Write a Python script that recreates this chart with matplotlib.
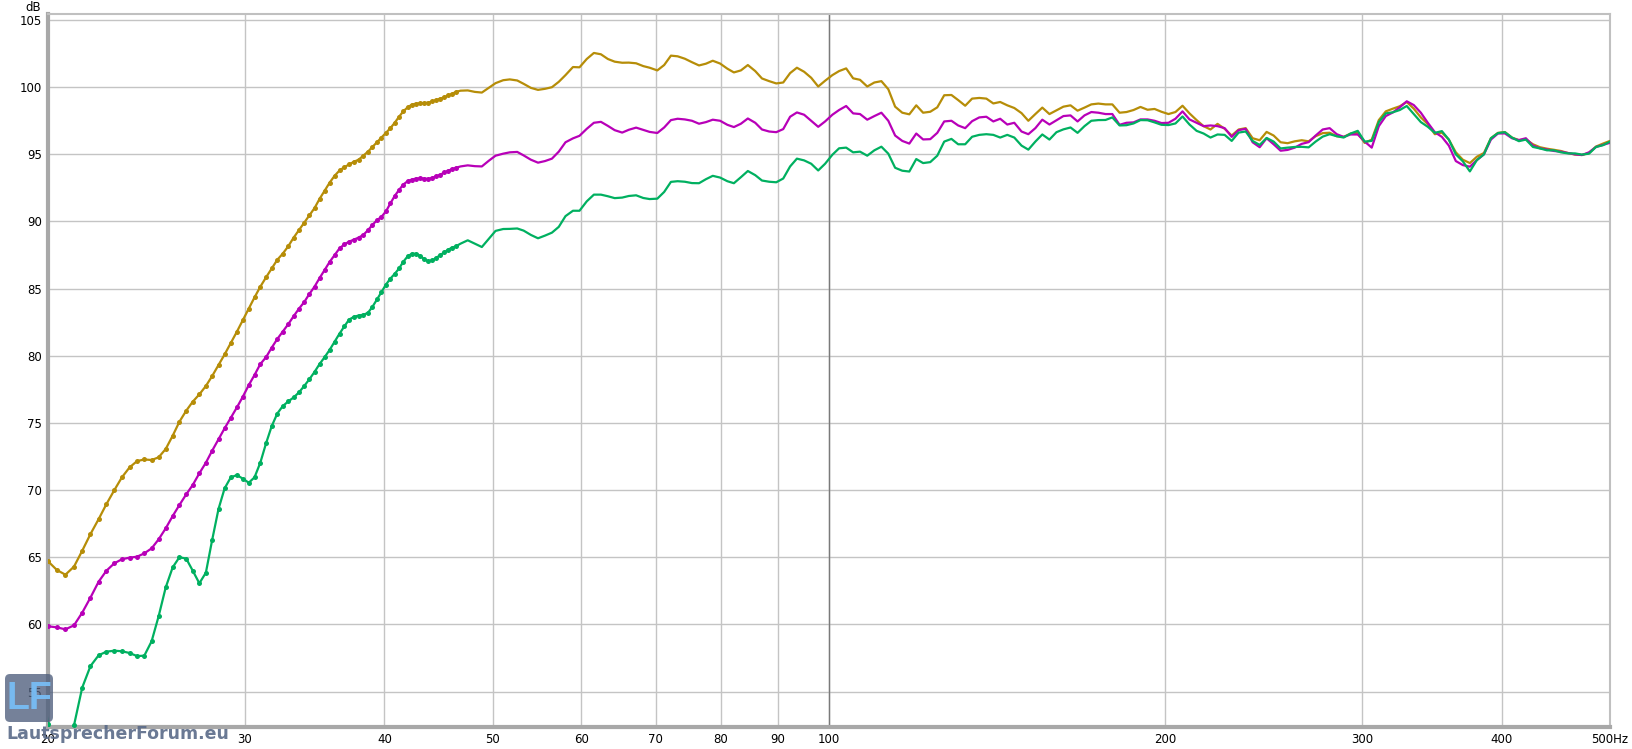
import matplotlib
matplotlib.use("Agg")
import matplotlib.pyplot as plt
from matplotlib.patches import FancyBboxPatch
from matplotlib.ticker import FixedLocator, FixedFormatter, NullLocator
from matplotlib.transforms import IdentityTransform

# Low end: FFT bins (drawn with markers)
low_freq = [
    19.63, 20.00, 20.37, 20.73, 21.10, 21.46, 21.83, 22.20, 22.56, 22.93,
    23.29, 23.66, 24.03, 24.39, 24.76, 25.12, 25.49, 25.86, 26.22, 26.59,
    26.95, 27.32, 27.69, 28.05, 28.42, 28.78, 29.15, 29.52, 29.88, 30.25,
    30.61, 30.98, 31.35, 31.71, 32.08, 32.44, 32.81, 33.18, 33.54, 33.91,
    34.27, 34.64, 35.01, 35.37, 35.74, 36.10, 36.47, 36.84, 37.20, 37.57,
    37.93, 38.30, 38.67, 39.03, 39.40, 39.76, 40.13, 40.50, 40.86, 41.23,
    41.59, 41.96, 42.33, 42.69, 43.06, 43.42, 43.79, 44.16, 44.52, 44.89,
    45.25, 45.62, 45.98, 46.35,
]
gold_low = [
    64.8, 64.7, 64.05, 63.7, 64.3, 65.48, 66.73, 67.84, 68.96, 70.0,
    70.95, 71.69, 72.16, 72.28, 72.24, 72.44, 73.06, 74.05, 75.09, 75.91,
    76.58, 77.13, 77.75, 78.49, 79.31, 80.1, 80.95, 81.8, 82.65, 83.5,
    84.35, 85.15, 85.85, 86.5, 87.15, 87.6, 88.15, 88.8, 89.35, 89.9,
    90.45, 91.0, 91.7, 92.3, 92.9, 93.4, 93.8, 94.05, 94.25, 94.45,
    94.6, 94.9, 95.2, 95.55, 95.9, 96.25, 96.6, 96.95, 97.35, 97.8,
    98.2, 98.5, 98.7, 98.78, 98.8, 98.82, 98.85, 98.95, 99.05, 99.15,
    99.25, 99.4, 99.5, 99.65,
]
magenta_low = [
    59.9, 59.86, 59.78, 59.63, 59.93, 60.87, 62.0, 63.18, 64.0, 64.55,
    64.85, 64.97, 65.04, 65.29, 65.66, 66.33, 67.15, 68.07, 68.89, 69.68,
    70.38, 71.25, 72.04, 72.93, 73.78, 74.6, 75.39, 76.16, 76.95, 77.82,
    78.57, 79.39, 79.9, 80.6, 81.25, 81.8, 82.35, 82.95, 83.5, 84.0,
    84.6, 85.15, 85.8, 86.4, 87.0, 87.5, 88.0, 88.3, 88.5, 88.65,
    88.8, 89.0, 89.35, 89.75, 90.1, 90.35, 90.75, 91.35, 91.9, 92.35,
    92.75, 93.0, 93.12, 93.2, 93.21, 93.2, 93.17, 93.25, 93.38, 93.48,
    93.65, 93.78, 93.9, 94.0,
]
green_low = [
    57.5, 52.58, 51.0, 51.0, 52.48, 55.29, 56.9, 57.7, 57.97, 58.04,
    58.0, 57.87, 57.64, 57.67, 58.74, 60.6, 62.75, 64.25, 65.0, 64.9,
    64.0, 63.06, 63.85, 66.28, 68.59, 70.13, 70.95, 71.12, 70.85, 70.55,
    70.95, 72.05, 73.5, 74.75, 75.7, 76.25, 76.6, 76.9, 77.27, 77.75,
    78.25, 78.8, 79.4, 79.9, 80.45, 81.05, 81.65, 82.2, 82.7, 82.9,
    83.0, 83.05, 83.2, 83.65, 84.2, 84.75, 85.3, 85.75, 86.1, 86.5,
    87.0, 87.4, 87.6, 87.6, 87.45, 87.2, 87.05, 87.1, 87.3, 87.5,
    87.7, 87.9, 88.05, 88.15,
]

# Upper range: 1/48 octave points (line only)
high_freq = [
    46.8, 47.5, 48.2, 48.9, 49.6, 50.3, 51.1, 51.8, 52.6, 53.3,
    54.1, 54.9, 55.7, 56.5, 57.3, 58.1, 59.0, 59.8, 60.7, 61.6,
    62.5, 63.4, 64.3, 65.3, 66.2, 67.2, 68.2, 69.1, 70.2, 71.2,
    72.2, 73.2, 74.3, 75.4, 76.5, 77.6, 78.7, 79.9, 81.1, 82.2,
    83.4, 84.6, 85.9, 87.1, 88.4, 89.7, 91.0, 92.3, 93.6, 95.0,
    96.4, 97.8, 99.2, 100.7, 102.1, 103.6, 105.1, 106.6, 108.2, 109.8,
    111.4, 113.0, 114.6, 116.3, 118.0, 119.7, 121.4, 123.2, 125.0, 126.8,
    128.7, 130.5, 132.4, 134.3, 136.3, 138.3, 140.3, 142.3, 144.4, 146.5,
    148.7, 150.8, 153.0, 155.2, 157.5, 159.8, 162.1, 164.5, 166.9, 169.3,
    171.7, 174.2, 176.8, 179.3, 182.0, 184.6, 187.3, 190.0, 192.8, 195.6,
    198.4, 201.3, 204.2, 207.2, 210.2, 213.3, 216.4, 219.5, 222.7, 226.0,
    229.3, 232.6, 236.0, 239.4, 242.9, 246.4, 250.0, 253.6, 257.3, 261.1,
    264.9, 268.7, 272.6, 276.6, 280.6, 284.7, 288.8, 293.0, 297.3, 301.6,
    306.0, 310.5, 315.0, 319.6, 324.2, 328.9, 333.7, 338.6, 343.5, 348.5,
    353.6, 358.7, 363.9, 369.2, 374.6, 380.0, 385.6, 391.2, 396.9, 402.6,
    408.5, 414.4, 420.4, 426.6, 432.8, 439.1, 445.4, 451.9, 458.5, 465.2,
    471.9, 478.8, 485.8, 492.8, 500.0,
]
gold_high = [
    99.74, 99.76, 99.65, 99.6, 99.95, 100.3, 100.52, 100.58, 100.5, 100.25,
    99.95, 99.8, 99.88, 100.0, 100.4, 100.9, 101.5, 101.48, 102.1, 102.55,
    102.45, 102.1, 101.9, 101.82, 101.83, 101.78, 101.57, 101.45, 101.25, 101.65,
    102.35, 102.3, 102.12, 101.86, 101.62, 101.75, 101.97, 101.76, 101.38, 101.1,
    101.25, 101.65, 101.2, 100.65, 100.45, 100.28, 100.35, 101.05, 101.45, 101.15,
    100.7, 100.05, 100.48, 100.9, 101.2, 101.4, 100.66, 100.55, 100.05, 100.35,
    100.45, 99.85, 98.55, 98.1, 97.98, 98.65, 98.1, 98.17, 98.5, 99.4,
    99.42, 99.04, 98.62, 99.15, 99.2, 99.15, 98.79, 98.9, 98.65, 98.45,
    98.07, 97.5, 98.0, 98.48, 98.0, 98.28, 98.55, 98.65, 98.25, 98.48,
    98.72, 98.78, 98.72, 98.72, 98.1, 98.15, 98.3, 98.53, 98.32, 98.38,
    98.17, 98.0, 98.15, 98.62, 98.05, 97.55, 97.1, 96.85, 97.27, 96.9,
    96.4, 96.85, 96.95, 96.2, 96.05, 96.67, 96.4, 95.9, 95.83, 95.97,
    96.05, 95.97, 96.35, 96.58, 96.61, 96.35, 96.3, 96.55, 96.6, 95.85,
    96.1, 97.55, 98.2, 98.4, 98.58, 98.9, 98.4, 97.75, 97.25, 96.5,
    96.62, 96.1, 95.15, 94.6, 94.35, 94.82, 95.1, 96.2, 96.6, 96.66,
    96.25, 96.06, 96.12, 95.75, 95.53, 95.42, 95.34, 95.25, 95.1, 94.98,
    94.95, 95.1, 95.58, 95.8, 96.0,
]
magenta_high = [
    94.1, 94.18, 94.12, 94.1, 94.52, 94.9, 95.05, 95.15, 95.18, 94.92,
    94.6, 94.38, 94.5, 94.68, 95.2, 95.9, 96.19, 96.38, 96.9, 97.35,
    97.42, 97.12, 96.8, 96.62, 96.83, 96.99, 96.82, 96.67, 96.59, 97.0,
    97.55, 97.65, 97.6, 97.5, 97.28, 97.4, 97.58, 97.5, 97.2, 97.03,
    97.28, 97.67, 97.35, 96.85, 96.7, 96.65, 96.88, 97.8, 98.12, 97.95,
    97.5, 97.05, 97.45, 97.95, 98.3, 98.6, 98.05, 98.0, 97.58, 97.85,
    98.1, 97.5, 96.4, 96.0, 95.8, 96.55, 96.11, 96.13, 96.6, 97.45,
    97.5, 97.15, 96.95, 97.47, 97.75, 97.8, 97.45, 97.65, 97.22, 97.35,
    96.7, 96.5, 96.95, 97.58, 97.22, 97.54, 97.85, 97.9, 97.45, 97.9,
    98.15, 98.1, 98.0, 98.0, 97.2, 97.35, 97.38, 97.6, 97.6, 97.5,
    97.33, 97.35, 97.65, 98.2, 97.6, 97.35, 97.1, 97.15, 97.1, 96.95,
    96.3, 96.8, 96.9, 95.9, 95.53, 96.2, 95.75, 95.27, 95.33, 95.5,
    95.78, 95.91, 96.4, 96.85, 96.95, 96.5, 96.3, 96.48, 96.48, 95.95,
    95.5, 97.1, 97.85, 98.12, 98.5, 98.95, 98.67, 98.1, 97.35, 96.65,
    96.3, 95.65, 94.5, 94.2, 94.08, 94.57, 95.0, 96.1, 96.55, 96.56,
    96.2, 96.06, 96.2, 95.65, 95.45, 95.36, 95.25, 95.2, 95.1, 95.0,
    94.95, 95.15, 95.55, 95.7, 95.86,
]
green_high = [
    88.35, 88.6, 88.35, 88.1, 88.7, 89.3, 89.44, 89.45, 89.48, 89.32,
    89.0, 88.75, 88.95, 89.17, 89.6, 90.4, 90.8, 90.8, 91.5, 92.0,
    92.0, 91.88, 91.74, 91.78, 91.9, 91.95, 91.75, 91.67, 91.7, 92.2,
    92.95, 93.0, 92.96, 92.86, 92.85, 93.15, 93.4, 93.27, 93.0, 92.85,
    93.3, 93.76, 93.45, 93.05, 92.96, 92.92, 93.2, 94.1, 94.68, 94.55,
    94.3, 93.8, 94.3, 94.97, 95.45, 95.5, 95.15, 95.2, 94.9, 95.3,
    95.57, 95.05, 94.0, 93.78, 93.72, 94.65, 94.35, 94.42, 94.9, 95.95,
    96.15, 95.75, 95.75, 96.31, 96.45, 96.5, 96.45, 96.25, 96.45, 96.25,
    95.65, 95.35, 95.95, 96.48, 96.1, 96.65, 96.86, 97.0, 96.6, 97.1,
    97.5, 97.55, 97.56, 97.75, 97.15, 97.17, 97.3, 97.55, 97.54, 97.38,
    97.2, 97.18, 97.3, 97.82, 97.22, 96.75, 96.55, 96.25, 96.48, 96.45,
    96.0, 96.62, 96.7, 96.0, 95.7, 96.22, 95.95, 95.44, 95.5, 95.55,
    95.56, 95.52, 95.95, 96.32, 96.5, 96.35, 96.25, 96.55, 96.75, 95.95,
    96.0, 97.4, 98.05, 98.13, 98.3, 98.6, 98.0, 97.4, 97.05, 96.6,
    96.73, 96.1, 95.0, 94.48, 93.73, 94.57, 95.0, 96.2, 96.58, 96.65,
    96.25, 95.98, 96.1, 95.55, 95.44, 95.3, 95.3, 95.15, 95.07, 95.07,
    94.98, 95.05, 95.55, 95.68, 95.95,
]

x_ticks = [20, 30, 40, 50, 60, 70, 80, 90, 100, 200, 300, 400, 500]
x_labels = ["20", "30", "40", "50", "60", "70", "80", "90", "100", "200", "300", "400", "500Hz"]
y_ticks = [55, 60, 65, 70, 75, 80, 85, 90, 95, 100, 105]

series = [
    ("#b68d08", gold_low, gold_high),
    ("#b800b8", magenta_low, magenta_high),
    ("#00b060", green_low, green_high),
]

W, H = 1633, 749
fig = plt.figure(figsize=(W / 100, H / 100), dpi=100)
ax = fig.add_axes([48 / W, 22 / H, 1562 / W, 713 / H])
ax.set_xscale("log")
ax.set_xlim(20, 500)
ax.set_ylim(52.36, 105.45)

ax.xaxis.set_major_locator(FixedLocator(x_ticks))
ax.xaxis.set_major_formatter(FixedFormatter(x_labels))
ax.xaxis.set_minor_locator(NullLocator())
ax.set_yticks(y_ticks)
ax.tick_params(length=0, labelsize=8.5, colors="#000000", pad=4.5)

ax.grid(True, color="#c4c4c4", lw=1.0)
ax.axvline(100, color="#7a7a7a", lw=1.0, zorder=1)
ax.set_axisbelow(True)

for side in ["top", "right"]:
    ax.spines[side].set_color("#c0c0c0")
    ax.spines[side].set_linewidth(1.5)
for side in ["left", "bottom"]:
    ax.spines[side].set_color("#a8a8a8")
    ax.spines[side].set_linewidth(3)

for color, low, high in series:
    freq = low_freq + high_freq
    db = low + high
    assert len(low) == len(low_freq) and len(high) == len(high_freq)
    ax.plot(freq, db, color=color, lw=1.6, solid_joinstyle="round", zorder=3)
    ax.plot(low_freq, low, ls="none", marker="o", ms=3.6, color=color,
            markeredgewidth=0, zorder=3)

fig.text(41 / W, 1 - 1 / H, "dB", ha="right", va="top", fontsize=8.5)

# forum watermark
box = FancyBboxPatch((5, 27), 48, 48, boxstyle="round,pad=0,rounding_size=5",
                     transform=IdentityTransform(), facecolor="#4e5e7c",
                     edgecolor="none", alpha=0.78, zorder=10)
fig.add_artist(box)
fig.text(29 / W, 50 / H, "LF", ha="center", va="center", fontsize=27,
         family=["Liberation Sans", "DejaVu Sans"], fontweight="bold",
         color="#78bdf4", alpha=0.95, zorder=11)
fig.text(6 / W, 10 / H, "LautsprecherForum.eu", ha="left", va="baseline",
         fontsize=12.5, fontweight="bold", color="#5a6a88", alpha=0.9, zorder=11)

fig.savefig("out.png", dpi=100)
